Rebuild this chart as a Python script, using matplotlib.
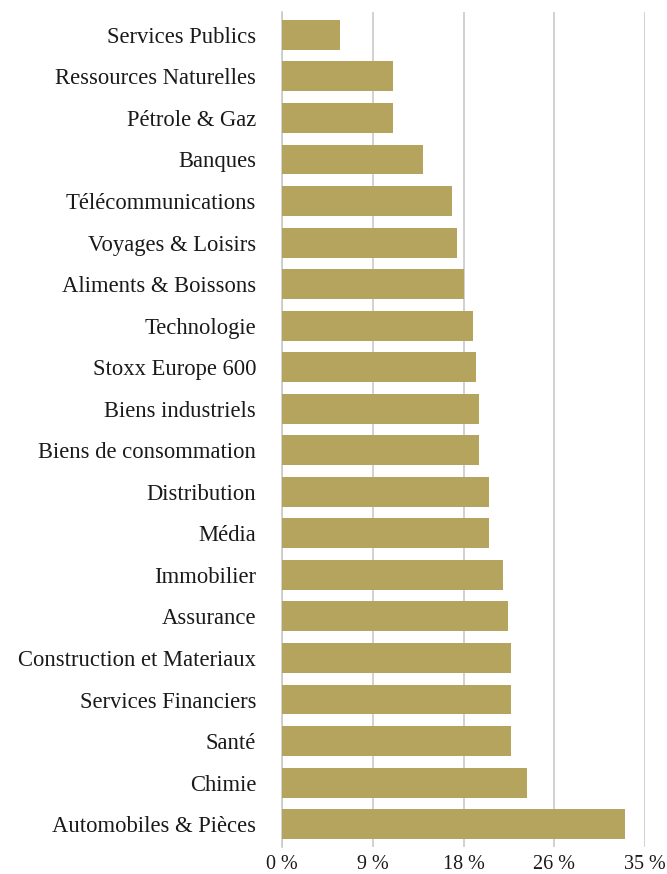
import matplotlib
matplotlib.use('Agg')
import matplotlib.pyplot as plt
from matplotlib.ticker import FuncFormatter

# sectors, top to bottom as in the chart
sectors = [
    "Services Publics", "Ressources Naturelles", "Pétrole & Gaz", "Banques",
    "Télécommunications", "Voyages & Loisirs", "Aliments & Boissons",
    "Technologie", "Stoxx Europe 600", "Biens industriels",
    "Biens de consommation", "Distribution", "Média", "Immobilier",
    "Assurance", "Construction et Materiaux", "Services Financiers",
    "Santé", "Chimie", "Automobiles & Pièces",
]
values = [5.6, 10.7, 10.7, 13.6, 16.4, 16.9, 17.5, 18.4, 18.7, 19.0,
          19.0, 20.0, 20.0, 21.3, 21.8, 22.1, 22.1, 22.1, 23.6, 33.1]
xticks = [0, 8.75, 17.5, 26.25, 35]

BAR_COLOR = '#b4a45e'
GRID_COLOR = '#c9c9c9'

plt.rcParams['font.family'] = ['Liberation Serif', 'DejaVu Serif']

fig = plt.figure(figsize=(6.67, 8.74), dpi=100)
ax = fig.add_axes([282 / 667, 1 - 847 / 874, (645 - 282) / 667, (847 - 12) / 874])

ypos = list(range(len(sectors)))
ax.barh(ypos, values, height=0.72, color=BAR_COLOR, zorder=3)

ax.set_ylim(len(sectors) - 0.45, -0.55)
ax.set_xlim(0, 35)
ax.set_yticks(ypos)
ax.set_yticklabels(sectors, fontsize=16.3, color='#1a1a1a')
ax.set_xticks(xticks)
ax.xaxis.set_major_formatter(FuncFormatter(lambda v, p: f"{v:.0f} %"))
ax.tick_params(axis='x', labelsize=14.5, colors='#1a1a1a', length=0, pad=6)
ax.tick_params(axis='y', length=0, pad=18.7)

ax.grid(True, axis='x', color=GRID_COLOR, linewidth=1.2, zorder=0)
for s in ['top', 'right', 'bottom']:
    ax.spines[s].set_visible(False)
ax.spines['left'].set_color(GRID_COLOR)
ax.spines['left'].set_linewidth(1.2)

fig.savefig('out.png', dpi=100)
